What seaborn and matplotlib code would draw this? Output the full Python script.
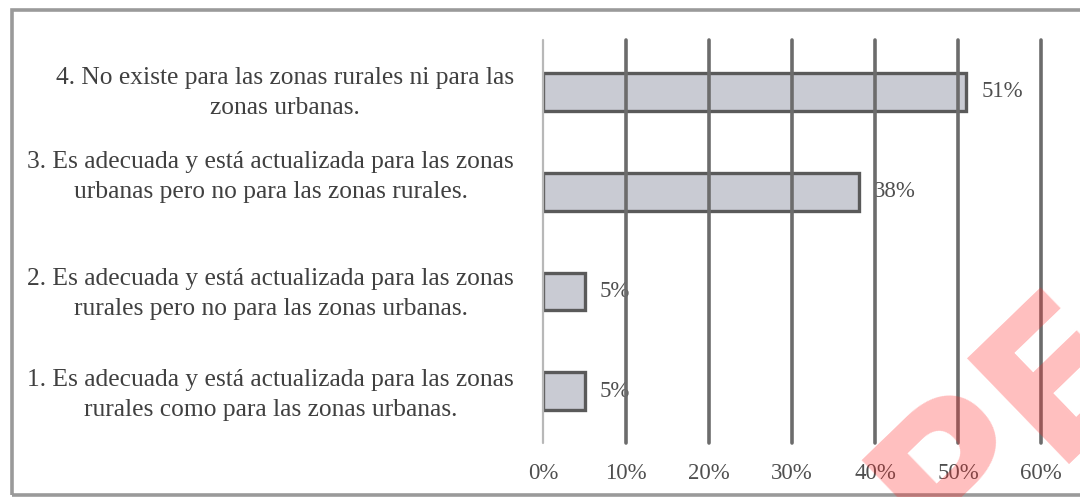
import matplotlib
matplotlib.use("Agg")
import matplotlib.pyplot as plt
import matplotlib.transforms as mtransforms
import seaborn as sns
import pandas as pd
from matplotlib.patches import Rectangle

# Survey answers, listed top to bottom as drawn
categories = [
    "4. No existe para las zonas rurales ni para las\nzonas urbanas.",
    "3. Es adecuada y está actualizada para las zonas\nurbanas pero no para las zonas rurales.",
    "2. Es adecuada y está actualizada para las zonas\nrurales pero no para las zonas urbanas.",
    "1. Es adecuada y está actualizada para las zonas\nrurales como para las zonas urbanas.",
]
values = [51, 38, 5, 5]
value_labels = ["51%", "38%", "5%", "5%"]
xticks = [0, 10, 20, 30, 40, 50, 60]
xtick_labels = ["0%", "10%", "20%", "30%", "40%", "50%", "60%"]

sns.set_theme(style="white")
plt.rcParams["font.family"] = ["Liberation Serif", "DejaVu Serif"]

fig = plt.figure(figsize=(10.8, 4.97), dpi=100)
fig.patch.set_facecolor("white")

ax = fig.add_axes([0.503, 0.108, 0.461, 0.812])
df = pd.DataFrame({"respuesta": categories, "porcentaje": values})
sns.barplot(
    data=df, x="porcentaje", y="respuesta", order=categories,
    color="#c9cbd3", saturation=1, edgecolor="#5a5a5a", linewidth=2.4,
    width=0.38, ax=ax, zorder=2,
)

ax.set_xlim(0, 60)
ax.set_ylim(3.52, -0.52)
ax.set_xticks(xticks)
ax.set_xticklabels(xtick_labels)
ax.set_xlabel("")
ax.set_ylabel("")
for s in ax.spines.values():
    s.set_visible(False)

# vertical gridlines, the 0% one lighter
ax.grid(axis="x", color="#6c6c6c", linewidth=2.6, zorder=3)
ax.grid(axis="y", visible=False)
gl = ax.get_xgridlines()
for g in gl:
    g.set_clip_on(False)
gl[0].set_color("#b8b8b8")
gl[0].set_linewidth(1.6)
ax.set_axisbelow(False)

ax.tick_params(axis="x", length=0, pad=14, labelsize=16.5, labelcolor="#4f4f4f")
ax.tick_params(axis="y", length=0, pad=21, labelsize=18.4, labelcolor="#404040")

# category labels: centred lines, nudged slightly upward
label_shift_pt = [4, 15, 3, 2]
for lab, dy in zip(ax.get_yticklabels(), label_shift_pt):
    lab.set_multialignment("center")
    lab.set_linespacing(1.48)
    lab.set_transform(lab.get_transform() +
                      mtransforms.ScaledTranslation(0, dy / 72, fig.dpi_scale_trans))

texts = ax.bar_label(ax.containers[0], labels=value_labels, padding=11,
                     fontsize=16.5, color="#4f4f4f")
for t in texts:
    t.set_zorder(2.5)

# scanned page frame
fig.patches.append(Rectangle((0.011, 0.004), 1.2, 0.976, transform=fig.transFigure,
                             fill=False, edgecolor="#9a9a9a", linewidth=2.6,
                             figure=fig))

# watermark
fig.text(0.935, 0.14, "PE", fontsize=145, fontweight="bold", color="#ff2a2a",
         alpha=0.3, rotation=44, ha="center", va="center",
         family="DejaVu Sans", zorder=5)

fig.savefig("out.png", dpi=100, facecolor="white")
